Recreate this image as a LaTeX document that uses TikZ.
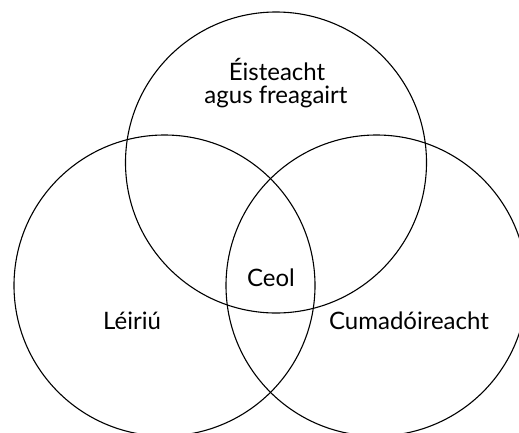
\documentclass[tikz,border=0pt]{standalone}
\usepackage{fontspec}
\setmainfont{Lato}
\tikzset{
  venn/.style={draw, circle, line width=1.1pt, minimum size=301pt, inner sep=0pt},
  lbl/.style={anchor=base, inner sep=0pt, font=\fontsize{24}{28}\selectfont}
}
\begin{document}
\begin{tikzpicture}[x=1pt,y=-1pt]
\useasboundingbox (0,0) rectangle (519,432);
\clip (0,0) rectangle (519,432);
\fill[white] (0,0) rectangle (519,432);
\node[venn] (top) at (276,162.5) {};
\node[venn] (left) at (164.5,285.5) {};
\node[venn] (right) at (376.5,285.5) {};
\node[lbl] (t1) at (277,80) {Éisteacht};
\node[lbl] (t2) at (276,103) {agus freagairt};
\node[lbl] (ceol) at (271,286.5) {Ceol};
\node[lbl] (l) at (132,329) {Léiriú};
\node[lbl] (c) at (409,329) {Cumadóireacht};
\end{tikzpicture}
\end{document}
